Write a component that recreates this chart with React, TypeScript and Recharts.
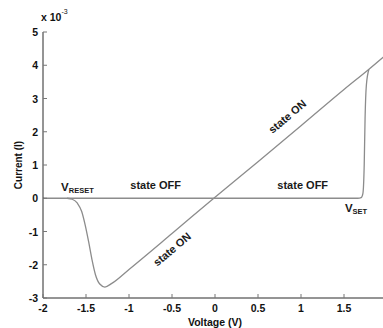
import React from "react";
import { LineChart, Line, XAxis, YAxis, ReferenceDot } from "recharts";

// current in units of 1e-3 A
const offBranch = [
  { v: -2, i: 0 },
  { v: -1, i: 0 },
  { v: 0, i: 0 },
  { v: 1, i: 0 },
  { v: 1.66, i: 0 },
  { v: 1.7, i: 0.02 },
  { v: 1.72, i: 0.15 },
  { v: 1.735, i: 1.0 },
  { v: 1.745, i: 2.4 },
  { v: 1.76, i: 3.4 },
  { v: 1.79, i: 3.88 },
];

const onBranch = [
  { v: -1.72, i: 0 },
  { v: -1.66, i: -0.03 },
  { v: -1.6, i: -0.15 },
  { v: -1.55, i: -0.4 },
  { v: -1.51, i: -0.8 },
  { v: -1.47, i: -1.3 },
  { v: -1.43, i: -1.85 },
  { v: -1.39, i: -2.3 },
  { v: -1.34, i: -2.58 },
  { v: -1.28, i: -2.67 },
  { v: -1.2, i: -2.56 },
  { v: -1, i: -2.14 },
  { v: -0.5, i: -1.06 },
  { v: 0, i: 0.03 },
  { v: 0.5, i: 1.1 },
  { v: 1, i: 2.18 },
  { v: 1.5, i: 3.27 },
  { v: 1.79, i: 3.88 },
  { v: 2, i: 4.34 },
];

const xTicks = [-2, -1.5, -1, -0.5, 0, 0.5, 1, 1.5, 2];
const yTicks = [-3, -2, -1, 0, 1, 2, 3, 4, 5];

const notes = [
  { v: -0.5, i: -1.53, text: "state ON", angle: -40 },
  { v: 0.84, i: 2.46, text: "state ON", angle: -40 },
  { v: -0.69, i: 0.39, text: "state OFF", angle: 0 },
  { v: 1.02, i: 0.39, text: "state OFF", angle: 0 },
];

const FONT = "'Liberation Sans', Arial, sans-serif";
const AXIS = "#2a2a2a";
const CURVE = "#8c8c8c";

const fmt = (n: number) => String(n);

const BottomTick = (props: any) => {
  const { x, y, payload } = props;
  // the last label (2) sits past the photographed edge, as in the original crop
  const show = payload.value < 2;
  return (
    <g>
      <line x1={x} y1={y} x2={x} y2={y - 4} stroke="#777" />
      {show && (
        <text x={x} y={y + 14} textAnchor="middle" fontFamily={FONT} fontSize={10.5} fontWeight="bold" fill="#111">
          {fmt(payload.value)}
        </text>
      )}
    </g>
  );
};

const LeftTick = (props: any) => {
  const { x, y, payload } = props;
  return (
    <g>
      <line x1={x} y1={y} x2={x + 4} y2={y} stroke="#777" />
      <text x={x - 5} y={y + 4} textAnchor="end" fontFamily={FONT} fontSize={10.5} fontWeight="bold" fill="#111">
        {fmt(payload.value)}
      </text>
    </g>
  );
};

const TopTick = (props: any) => {
  const { x, y } = props;
  return <line x1={x} y1={y} x2={x} y2={y + 4} stroke="#777" />;
};

const RightTick = (props: any) => {
  const { x, y } = props;
  return <line x1={x} y1={y} x2={x - 4} y2={y} stroke="#777" />;
};

const noteLabel = (text: string, angle: number) => (props: any) => {
  const { x, y, width, height } = props.viewBox;
  const cx = x + (width || 0) / 2;
  const cy = y + (height || 0) / 2;
  return (
    <text
      x={cx}
      y={cy}
      transform={`rotate(${angle} ${cx} ${cy})`}
      textAnchor="middle"
      dominantBaseline="central"
      fontFamily={FONT}
      fontSize={11}
      fontWeight="bold"
      fill="#1a1a1a"
    >
      {text}
    </text>
  );
};

const subLabel = (main: string, sub: string) => (props: any) => {
  const { x, y, width, height } = props.viewBox;
  const cx = x + (width || 0) / 2;
  const cy = y + (height || 0) / 2;
  return (
    <text x={cx} y={cy + 4} textAnchor="middle" fontFamily={FONT} fontWeight="bold" fill="#1a1a1a">
      <tspan fontSize={11.5}>{main}</tspan>
      <tspan fontSize={7.5} dy={1.5}>{sub}</tspan>
    </text>
  );
};

export default function App() {
  return (
    <div style={{ position: "fixed", left: 0, top: 0, width: 383, height: 328, overflow: "hidden", background: "#fff" }}>
      <LineChart width={400} height={328} margin={{ top: 32, right: 13, bottom: 0, left: 0 }}>
        <XAxis
          xAxisId="b"
          type="number"
          dataKey="v"
          domain={[-2, 2]}
          ticks={xTicks}
          allowDataOverflow
          height={30}
          tickSize={0}
          tickMargin={0}
          tickLine={false}
          axisLine={{ stroke: AXIS }}
          tick={<BottomTick />}
          interval={0}
        />
        <XAxis
          xAxisId="t"
          orientation="top"
          type="number"
          dataKey="v"
          domain={[-2, 2]}
          ticks={xTicks}
          allowDataOverflow
          height={0}
          tickSize={0}
          tickMargin={0}
          tickLine={false}
          axisLine={{ stroke: AXIS }}
          tick={<TopTick />}
          interval={0}
        />
        <YAxis
          yAxisId="l"
          type="number"
          dataKey="i"
          domain={[-3, 5]}
          ticks={yTicks}
          allowDataOverflow
          width={43}
          tickSize={0}
          tickMargin={0}
          tickLine={false}
          axisLine={{ stroke: AXIS }}
          tick={<LeftTick />}
          interval={0}
        />
        <YAxis
          yAxisId="r"
          orientation="right"
          type="number"
          dataKey="i"
          domain={[-3, 5]}
          ticks={yTicks}
          allowDataOverflow
          width={0}
          tickSize={0}
          tickMargin={0}
          tickLine={false}
          axisLine={{ stroke: AXIS }}
          tick={<RightTick />}
          interval={0}
        />
        <Line
          xAxisId="b"
          yAxisId="l"
          data={offBranch}
          dataKey="i"
          type="monotone"
          stroke={CURVE}
          strokeWidth={1.3}
          dot={false}
          isAnimationActive={false}
        />
        <Line
          xAxisId="b"
          yAxisId="l"
          data={onBranch}
          dataKey="i"
          type="monotone"
          stroke={CURVE}
          strokeWidth={1.3}
          dot={false}
          isAnimationActive={false}
        />
        {notes.map((n, k) => (
          <ReferenceDot
            key={k}
            xAxisId="b"
            yAxisId="l"
            x={n.v}
            y={n.i}
            r={0}
            fill="none"
            stroke="none"
            label={noteLabel(n.text, n.angle)}
          />
        ))}
        <ReferenceDot xAxisId="b" yAxisId="l" x={-1.6} y={0.33} r={0} fill="none" stroke="none" label={subLabel("V", "RESET")} />
        <ReferenceDot xAxisId="b" yAxisId="l" x={1.64} y={-0.3} r={0} fill="none" stroke="none" label={subLabel("V", "SET")} />
      </LineChart>
      <div
        style={{
          position: "absolute",
          left: 41,
          top: 10,
          fontFamily: FONT,
          fontSize: 10.5,
          fontWeight: "bold",
          color: "#111",
        }}
      >
        x 10<sup style={{ fontSize: 7, fontWeight: "normal", position: "relative", top: -2 }}>-3</sup>
      </div>
      <div
        style={{
          position: "absolute",
          left: 18,
          top: 165,
          transform: "translate(-50%, -50%) rotate(-90deg)",
          fontFamily: FONT,
          fontSize: 10,
          fontWeight: "bold",
          color: "#111",
          whiteSpace: "nowrap",
        }}
      >
        Current (I)
      </div>
      <div
        style={{
          position: "absolute",
          left: 215,
          top: 322,
          transform: "translate(-50%, -50%)",
          fontFamily: FONT,
          fontSize: 10.5,
          fontWeight: "bold",
          color: "#111",
          whiteSpace: "nowrap",
        }}
      >
        Voltage (V)
      </div>
    </div>
  );
}
